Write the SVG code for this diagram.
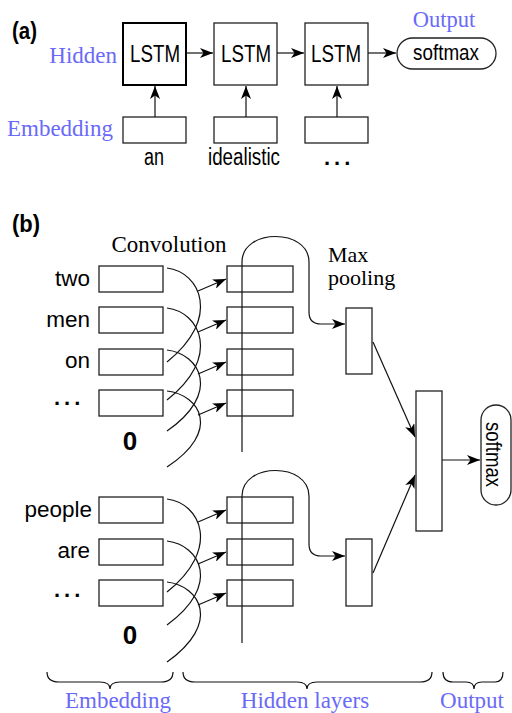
<svg xmlns="http://www.w3.org/2000/svg" width="512" height="713" viewBox="0 0 512 713">
<style>
.bx{fill:#fff;stroke:#222;stroke-width:1.3}
.ln{fill:none;stroke:#111;stroke-width:1.2}
.sans{font-family:"Liberation Sans",Arial,sans-serif;fill:#000}
.bold{font-family:"Liberation Sans",Arial,sans-serif;font-weight:bold;fill:#000}
.ser{font-family:"Liberation Serif","Times New Roman",serif;fill:#000}
.blue{font-family:"Liberation Serif","Times New Roman",serif;fill:#6a6af8}
</style>
<defs>
<marker id="ah" viewBox="0 0 13 10" refX="13" refY="5" markerWidth="13" markerHeight="10" markerUnits="userSpaceOnUse" orient="auto">
<path d="M0,0 L13,5 L0,10 L3.5,5 z" fill="#000"/>
</marker>
</defs>
<rect width="512" height="713" fill="#fff"/>

<!-- (a) -->
<g id="labels-a">
<text class="bold" x="12" y="39" font-size="23" textLength="25" lengthAdjust="spacingAndGlyphs">(a)</text>
<text class="blue" x="117" y="63" font-size="23" text-anchor="end">Hidden</text>
<text class="blue" x="113" y="136" font-size="23" text-anchor="end">Embedding</text>
<text class="blue" x="444" y="27" font-size="22.5" text-anchor="middle">Output</text>
</g>
<g id="lstm1"><rect x="123" y="23" width="63" height="62" fill="#fff" stroke="#000" stroke-width="2"/><text class="sans" x="155" y="62" font-size="23" text-anchor="middle" textLength="50" lengthAdjust="spacingAndGlyphs">LSTM</text></g>
<g id="lstm2"><rect class="bx" x="214" y="23" width="63" height="62"/><text class="sans" x="246" y="62" font-size="23" text-anchor="middle" textLength="50" lengthAdjust="spacingAndGlyphs">LSTM</text></g>
<g id="lstm3"><rect class="bx" x="305" y="23" width="63" height="62"/><text class="sans" x="336" y="62" font-size="23" text-anchor="middle" textLength="50" lengthAdjust="spacingAndGlyphs">LSTM</text></g>
<g id="softmax-a"><rect class="bx" x="397" y="38" width="99" height="31" rx="15.5"/><text class="sans" x="446" y="60" font-size="22" text-anchor="middle" textLength="66" lengthAdjust="spacingAndGlyphs">softmax</text></g>
<g id="emb-a1"><rect class="bx" x="123" y="117" width="63" height="26"/><text class="sans" x="154" y="165" font-size="23" text-anchor="middle" textLength="20" lengthAdjust="spacingAndGlyphs">an</text></g>
<g id="emb-a2"><rect class="bx" x="214" y="117" width="63" height="26"/><text class="sans" x="244" y="165" font-size="23" text-anchor="middle" textLength="72" lengthAdjust="spacingAndGlyphs">idealistic</text></g>
<g id="emb-a3"><rect class="bx" x="305" y="117" width="63" height="26"/><text class="bold" x="324" y="165" font-size="22" letter-spacing="4">...</text></g>

<!-- (b) labels -->
<g id="labels-b">
<text class="bold" x="12" y="232" font-size="23" textLength="28" lengthAdjust="spacingAndGlyphs">(b)</text>
<text class="ser" x="169" y="252" font-size="23" text-anchor="middle">Convolution</text>
<text class="ser" x="328" y="262" font-size="22">Max</text>
<text class="ser" x="328" y="285" font-size="22">pooling</text>
</g>

<!-- (b) top group -->
<g id="emb-b1"><rect class="bx" x="99" y="266" width="64" height="26"/><text class="sans" x="90" y="286" font-size="22.5" text-anchor="end">two</text></g>
<g id="emb-b2"><rect class="bx" x="99" y="307" width="64" height="26"/><text class="sans" x="90" y="327" font-size="22.5" text-anchor="end">men</text></g>
<g id="emb-b3"><rect class="bx" x="99" y="349" width="64" height="26"/><text class="sans" x="90" y="368" font-size="22.5" text-anchor="end">on</text></g>
<g id="emb-b4"><rect class="bx" x="99" y="390" width="64" height="26"/><text class="bold" x="54" y="405" font-size="22" letter-spacing="4">...</text></g>
<g id="zero-b1"><text class="bold" x="130" y="450" font-size="26" text-anchor="middle">0</text></g>
<g id="hid-b1"><rect class="bx" x="227" y="266" width="66" height="26"/></g>
<g id="hid-b2"><rect class="bx" x="227" y="307" width="66" height="26"/></g>
<g id="hid-b3"><rect class="bx" x="227" y="349" width="66" height="26"/></g>
<g id="hid-b4"><rect class="bx" x="227" y="390" width="66" height="26"/></g>
<g id="pool1"><rect class="bx" x="346" y="308" width="26" height="66"/></g>

<!-- (b) bottom group -->
<g id="emb-c1"><rect class="bx" x="99" y="497" width="64" height="26"/><text class="sans" x="92" y="517" font-size="22.5" text-anchor="end">people</text></g>
<g id="emb-c2"><rect class="bx" x="99" y="539" width="64" height="26"/><text class="sans" x="90" y="558" font-size="22.5" text-anchor="end">are</text></g>
<g id="emb-c3"><rect class="bx" x="99" y="580" width="64" height="26"/><text class="bold" x="54" y="597" font-size="22" letter-spacing="4">...</text></g>
<g id="zero-c1"><text class="bold" x="130" y="644" font-size="26" text-anchor="middle">0</text></g>
<g id="hid-c1"><rect class="bx" x="227" y="497" width="66" height="26"/></g>
<g id="hid-c2"><rect class="bx" x="227" y="539" width="66" height="26"/></g>
<g id="hid-c3"><rect class="bx" x="227" y="580" width="66" height="26"/></g>
<g id="pool2"><rect class="bx" x="346" y="539" width="26" height="67"/></g>

<g id="concat"><rect class="bx" x="416" y="391" width="26" height="140"/></g>
<g id="softmax-b"><rect class="bx" x="481" y="405" width="30" height="100" rx="15"/><text class="sans" transform="translate(486,454.5) rotate(90)" x="0" y="0" font-size="22" text-anchor="middle" textLength="65" lengthAdjust="spacingAndGlyphs">softmax</text></g>

<!-- braces -->
<g id="braces">
<path class="ln" d="M47,672 Q47,682 59,682 L100,682 Q110,682 110,689 Q110,682 120,682 L161,682 Q173,682 173,672"/>
<path class="ln" d="M183,672 Q183,682 195,682 L297,682 Q307,682 307,689 Q307,682 317,682 L420,682 Q432,682 432,672"/>
<path class="ln" d="M443,672 Q443,682 453,682 L466,682 Q474,682 474,689 Q474,682 482,682 L495,682 Q503,682 503,672"/>
<text class="blue" x="118" y="708" font-size="23" text-anchor="middle">Embedding</text>
<text class="blue" x="305" y="708" font-size="23" text-anchor="middle">Hidden layers</text>
<text class="blue" x="472" y="708" font-size="23" text-anchor="middle">Output</text>
</g>

<!-- connectors -->
<g id="connectors" class="ln">
<line x1="186" y1="53" x2="213" y2="53" marker-end="url(#ah)"/>
<line x1="277" y1="53" x2="304" y2="53" marker-end="url(#ah)"/>
<line x1="368" y1="53" x2="396" y2="53" marker-end="url(#ah)"/>
<line x1="155" y1="117" x2="155" y2="86" marker-end="url(#ah)"/>
<line x1="246" y1="117" x2="246" y2="86" marker-end="url(#ah)"/>
<line x1="337" y1="117" x2="337" y2="86" marker-end="url(#ah)"/>

<!-- convolution arcs top -->
<path d="M167,268 C200,272 222,318 167,362"/>
<path d="M167,308 C200,312 222,357 167,400"/>
<path d="M167,350 C200,354 222,393 167,431"/>
<path d="M167,391 C200,395 222,431 167,467"/>
<line x1="198" y1="291" x2="226" y2="279" marker-end="url(#ah)"/>
<line x1="198" y1="332" x2="226" y2="320" marker-end="url(#ah)"/>
<line x1="198" y1="374" x2="226" y2="362" marker-end="url(#ah)"/>
<line x1="198" y1="415" x2="226" y2="403" marker-end="url(#ah)"/>
<!-- convolution arcs bottom -->
<path d="M167,499 C200,503 222,548 167,592"/>
<path d="M167,541 C200,545 222,585 167,625"/>
<path d="M167,582 C200,586 222,623 167,662"/>
<line x1="198" y1="522" x2="226" y2="510" marker-end="url(#ah)"/>
<line x1="198" y1="564" x2="226" y2="552" marker-end="url(#ah)"/>
<line x1="198" y1="605" x2="226" y2="593" marker-end="url(#ah)"/>

<!-- max pooling paths -->
<path d="M242,452 L242,262 C242,228 309,228 309,262 L309,312 Q309,324 321,324 L345,324" marker-end="url(#ah)"/>
<path d="M242,643 L242,496 C242,462 309,462 309,496 L309,544 Q309,556 321,556 L345,556" marker-end="url(#ah)"/>

<line x1="373" y1="342" x2="415" y2="437" marker-end="url(#ah)"/>
<line x1="373" y1="573" x2="415" y2="475" marker-end="url(#ah)"/>
<line x1="442" y1="460" x2="480" y2="460" marker-end="url(#ah)"/>
</g>
</svg>
